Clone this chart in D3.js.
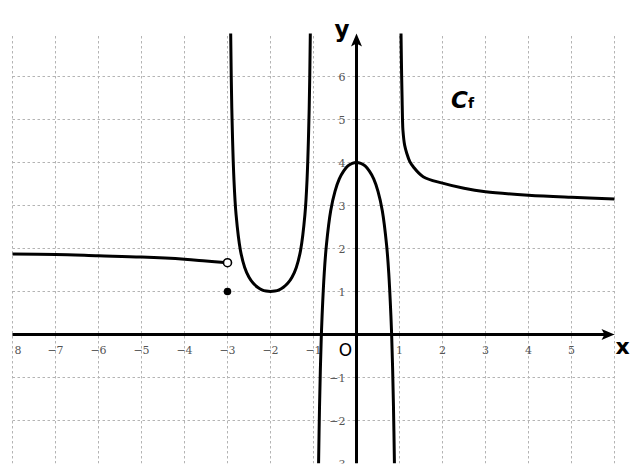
<!DOCTYPE html>
<html>
<head>
<meta charset="utf-8">
<script src="https://cdn.jsdelivr.net/npm/d3@7"></script>
<style>
  html, body { margin: 0; padding: 0; background: #fff; }
  svg { display: block; }
</style>
</head>
<body>
<svg id="chart" width="634" height="473"></svg>
<script>
// ---- data ----
const xTicks = [-8, -7, -6, -5, -4, -3, -2, -1, 1, 2, 3, 4, 5];
const xTickLabels = ["8", "−7", "−6", "−5", "−4", "−3", "−2", "−1", "1", "2", "3", "4", "5"];
const yTicks = [-3, -2, -1, 1, 2, 3, 4, 5, 6];
const yTickLabels = ["−3", "−2", "−1", "1", "2", "3", "4", "5", "6"];
const xGrid = [-8, -7, -6, -5, -4, -3, -2, -1, 0, 1, 2, 3, 4, 5, 6];
const yGrid = [-2, -1, 0, 1, 2, 3, 4, 5, 6];

// branch x < -3
const branchLeftX = [-8, -7, -6, -5, -4, -3.5, -3];
const branchLeftY = [1.87, 1.86, 1.83, 1.8, 1.75, 1.71, 1.67];
// branch -3 < x < -1
const branchUX = [-2.926, -2.9, -2.85, -2.8, -2.7, -2.6, -2.5, -2.4, -2.3, -2.2, -2.1, -2, -1.9, -1.8, -1.7, -1.6, -1.5, -1.4, -1.3, -1.2, -1.15, -1.1, -1.074];
const branchUY = [7, 5.26, 3.6, 2.78, 1.96, 1.56, 1.33, 1.19, 1.1, 1.04, 1.01, 1, 1.01, 1.04, 1.1, 1.19, 1.33, 1.56, 1.96, 2.78, 3.6, 5.26, 7];
// branch -1 < x < 1
const branchMidX = [-0.882, -0.86, -0.84, -0.82, -0.8, -0.75, -0.7, -0.6, -0.5, -0.4, -0.3, -0.2, -0.1, 0, 0.1, 0.2, 0.3, 0.4, 0.5, 0.6, 0.7, 0.75, 0.8, 0.82, 0.84, 0.86, 0.882];
const branchMidY = [-3, -1.68, -0.79, -0.1, 0.44, 1.43, 2.08, 2.88, 3.33, 3.62, 3.8, 3.92, 3.98, 4, 3.98, 3.92, 3.8, 3.62, 3.33, 2.88, 2.08, 1.43, 0.44, -0.1, -0.79, -1.68, -3];
// branch x > 1
const branchRightX = [1.035, 1.05, 1.06, 1.07, 1.08, 1.12, 1.17, 1.24, 1.32, 1.55, 2, 2.5, 3, 4, 5, 6];
const branchRightY = [7, 6, 5.5, 5, 4.75, 4.4, 4.21, 4.02, 3.9, 3.67, 3.52, 3.4, 3.32, 3.24, 3.19, 3.15];

const openPoint = [-3, 1.67];
const filledPoint = [-3, 1];

// ---- layout ----
const svg = d3.select("#chart");
const x = d3.scaleLinear().domain([-8, 6]).range([12.5, 614.5]);
const y = d3.scaleLinear().domain([-3, 7]).range([463.5, 33.5]);

svg.append("defs").append("clipPath").attr("id", "clip")
  .append("rect").attr("x", 0).attr("y", 0).attr("width", 634).attr("height", y(-3));
const root = svg.append("g").attr("clip-path", "url(#clip)");

// grid
const grid = root.append("g");
grid.selectAll("line.v").data(xGrid).enter().append("line")
  .attr("x1", d => x(d)).attr("x2", d => x(d))
  .attr("y1", y(-3)).attr("y2", y(7))
  .attr("stroke", "#b4b4b4").attr("stroke-width", 1).attr("stroke-dasharray", "2.5,2.5");
grid.selectAll("line.h").data(yGrid).enter().append("line")
  .attr("y1", d => y(d)).attr("y2", d => y(d))
  .attr("x1", x(-8)).attr("x2", x(6))
  .attr("stroke", "#b4b4b4").attr("stroke-width", 1).attr("stroke-dasharray", "2.5,2.5");

// tick labels
const tickFont = "'DejaVu Serif', 'Liberation Serif', serif";
root.append("g").selectAll("text").data(xTicks).enter().append("text")
  .attr("x", (d, i) => i === 0 ? x(d) + 2 : x(d))
  .attr("y", y(0) + 19)
  .attr("text-anchor", (d, i) => i === 0 ? "start" : "middle")
  .attr("font-family", tickFont).attr("font-size", 11).attr("fill", "#555")
  .text((d, i) => xTickLabels[i]);
root.append("g").selectAll("text").data(yTicks).enter().append("text")
  .attr("x", x(0) - 11)
  .attr("y", d => y(d) + 4)
  .attr("text-anchor", "end")
  .attr("font-family", tickFont).attr("font-size", 11).attr("fill", "#555")
  .text((d, i) => yTickLabels[i]);

// axes with arrows
const ax = root.append("g");
ax.append("line").attr("x1", x(-8)).attr("x2", x(6) - 8).attr("y1", y(0)).attr("y2", y(0))
  .attr("stroke", "#000").attr("stroke-width", 3);
ax.append("path")
  .attr("d", `M${x(6)},${y(0)} L${x(6) - 13},${y(0) - 5.5} L${x(6) - 10},${y(0)} L${x(6) - 13},${y(0) + 5.5} Z`)
  .attr("fill", "#000");
ax.append("line").attr("x1", x(0)).attr("x2", x(0)).attr("y1", y(-3)).attr("y2", y(7) + 8)
  .attr("stroke", "#000").attr("stroke-width", 3);
ax.append("path")
  .attr("d", `M${x(0)},${y(7)} L${x(0) - 5.5},${y(7) + 13} L${x(0)},${y(7) + 10} L${x(0) + 5.5},${y(7) + 13} Z`)
  .attr("fill", "#000");

// curves
const line = d3.line().x(d => x(d[0])).y(d => y(d[1])).curve(d3.curveCatmullRom.alpha(0.5));
const branches = [
  d3.zip(branchLeftX, branchLeftY),
  d3.zip(branchUX, branchUY),
  d3.zip(branchMidX, branchMidY),
  d3.zip(branchRightX, branchRightY)
];
root.append("g").selectAll("path").data(branches).enter().append("path")
  .attr("d", line)
  .attr("fill", "none").attr("stroke", "#000").attr("stroke-width", 3)
  .attr("stroke-linecap", "butt").attr("stroke-linejoin", "round");

// points
root.append("circle").attr("cx", x(openPoint[0])).attr("cy", y(openPoint[1])).attr("r", 4)
  .attr("fill", "#fff").attr("stroke", "#000").attr("stroke-width", 1.6);
root.append("circle").attr("cx", x(filledPoint[0])).attr("cy", y(filledPoint[1])).attr("r", 3.8)
  .attr("fill", "#000");

// labels
const handFont = "'DejaVu Sans', 'Noto Sans', sans-serif";
root.append("text").attr("x", 345.5).attr("y", 356).attr("text-anchor", "middle")
  .attr("font-family", handFont).attr("font-size", 17).attr("fill", "#000").text("O");
root.append("text").attr("x", 622.5).attr("y", 354).attr("text-anchor", "middle")
  .attr("font-family", handFont).attr("font-size", 22).attr("font-weight", "bold").attr("fill", "#000").text("x");
root.append("text").attr("x", 342).attr("y", 37).attr("text-anchor", "middle")
  .attr("font-family", handFont).attr("font-size", 23).attr("font-weight", "bold").attr("fill", "#000").text("y");
const cf = root.append("text").attr("x", 451).attr("y", 108)
  .attr("font-family", handFont).attr("fill", "#000");
cf.append("tspan").attr("font-size", 23).attr("font-style", "italic").attr("font-weight", "bold").text("C");
cf.append("tspan").attr("font-size", 14).attr("font-weight", "bold").text("f");
</script>
</body>
</html>
